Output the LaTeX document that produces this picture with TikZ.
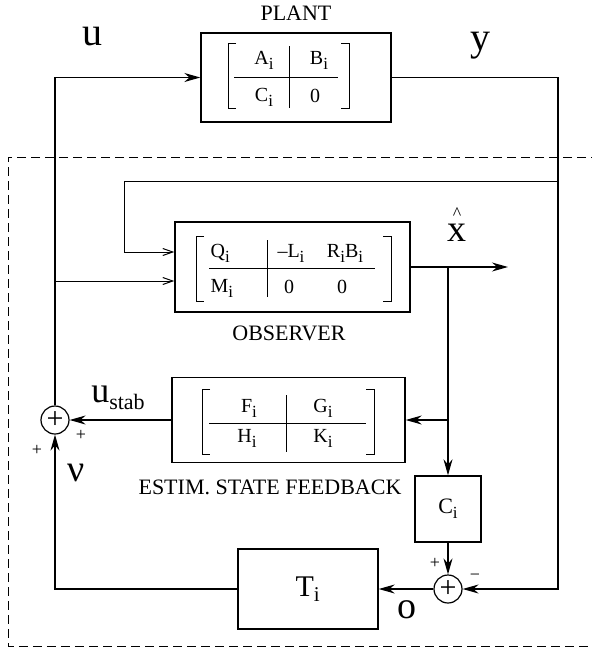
\documentclass[tikz,border=0pt]{standalone}
\usepackage{fontspec}
\setmainfont{Liberation Serif}
\usetikzlibrary{arrows.meta,calc}

\newcommand{\fs}[1]{\fontsize{#1}{#1}\selectfont}
\newcommand{\ix}{\raisebox{-5pt}{\fs{17}i}}

\begin{document}
\begin{tikzpicture}[x=1pt, y=-1pt, line width=1.2pt,
    blk/.style={draw, line width=1.4pt, inner sep=0pt},
    sumnode/.style={draw, circle, minimum size=28pt, inner sep=0pt, font=\fs{30}},
    ent/.style={inner sep=0pt, font=\fs{20}},
    lbl/.style={inner sep=0pt, font=\fs{22}},
    sgn/.style={inner sep=0pt, font=\fs{18}},
    big/.style={inner sep=0pt, font=\fs{38}},
    arr/.style={-{Stealth[length=16pt,width=9pt]}},
    barb/.style={-{Straight Barb[length=10pt,width=7pt]}, line width=1pt},
    mat/.style={line width=1pt}]
  \useasboundingbox (0,0) rectangle (592,649);

  % controller frame
  \draw[dashed, dash pattern=on 9pt off 5pt, line width=1pt] (600,157) -- (8,157) -- (8,646) -- (600,646);

  % plant
  \node[blk, minimum width=190pt, minimum height=89pt] (plant) at (296,77.5) {};
  \node[lbl] (plantlbl) at (296,13) {PLANT};
  \draw[mat] (236,43) -- (228,43) -- (228,108) -- (236,108);
  \draw[mat] (341,43) -- (349,43) -- (349,108) -- (341,108);
  \draw[mat] (289,46) -- (289,108) (234,77) -- (338,77);
  \node[ent] (pa) at (264,60) {A\ix};
  \node[ent] (pb) at (319,60) {B\ix};
  \node[ent] (pc) at (264,97) {C\ix};
  \node[ent] (pd) at (315,96) {0};

  % observer
  \node[blk, minimum width=235pt, minimum height=90pt] (obs) at (292.5,267) {};
  \node[lbl] (obslbl) at (289,333) {OBSERVER};
  \draw[mat] (204,236) -- (196,236) -- (196,301) -- (204,301);
  \draw[mat] (383,236) -- (391,236) -- (391,301) -- (383,301);
  \draw[mat] (267,240) -- (267,297) (209,268) -- (375,268);
  \node[ent, anchor=west] (oq) at (210,253) {Q\ix};
  \node[ent] (ol) at (291,253) {--L\ix};
  \node[ent] (or) at (345,253) {R\ix B\ix};
  \node[ent, anchor=west] (om) at (210,288) {M\ix};
  \node[ent] (oz1) at (289,287) {0};
  \node[ent] (oz2) at (342,287) {0};

  % estimated state feedback
  \node[blk, minimum width=233pt, minimum height=85pt] (fb) at (288.5,420) {};
  \node[lbl] (fblbl) at (270,487) {ESTIM. STATE FEEDBACK};
  \draw[mat] (210,389) -- (202,389) -- (202,454) -- (210,454);
  \draw[mat] (366,389) -- (374,389) -- (374,454) -- (366,454);
  \draw[mat] (286,395) -- (286,452) (209,423) -- (366,423);
  \node[ent] (ff) at (249,408) {F\ix};
  \node[ent] (fg) at (323,408) {G\ix};
  \node[ent] (fh) at (247,438) {H\ix};
  \node[ent] (fk) at (323,438) {K\ix};

  % output map, residual and filter
  \node[blk, minimum size=66pt, font=\fs{22}] (cbox) at (448,509) {C\ix};
  \node[blk, minimum width=140pt, minimum height=80pt, font=\fs{30}] (tbox) at (308,589) {T\textsubscript{i}};
  \node[sumnode] (sumu) at (55,420) {+};
  \node[sumnode] (sumo) at (448,589) {+};

  % signal names
  \node[inner sep=0pt, font=\fs{40}] (ulbl) at (92,37) {u};
  \node[inner sep=0pt, font=\fs{40}] (ylbl) at (480,46) {y};
  \node[big, align=center, anchor=south] (xlbl) at (457,242) {{\fs{18}\textasciicircum}\\[-16pt]x};
  \node[inner sep=0pt, font=\fs{36}] (ustab) at (118,398) {u\raisebox{-7pt}{\fs{22}stab}};
  \node[big] (nulbl) at (76,473) {ν};
  \node[big] (olbl) at (407,610) {o};
  \node[sgn] (p1) at (81,435) {+};
  \node[sgn] (p2) at (37,450) {+};
  \node[sgn] (p3) at (435,563) {+};
  \node[sgn] (m1) at (475,577) {−};

  \coordinate (yout) at (558,589);
  \coordinate (ytap) at (558,181);
  \coordinate (fbk) at (124,181);
  \coordinate (uin) at (55,281);
  \coordinate (xhat) at (508,267);
  \coordinate (tap) at (448,267);

  \draw[arr] (sumu.north) |- (plant.west);
  \draw[arr] (plant.east) -| (yout) -- (sumo.east);
  \draw[barb] (ytap) -- (fbk) |- ($(obs.west)+(0,-15)$);
  \draw[barb] (uin) -- (uin -| obs.west);
  \draw[arr] (obs.east) -- (xhat);
  \draw[arr] (tap) -- (cbox.north);
  \draw[arr] (tap |- fb.east) -- (fb.east);
  \draw[arr] (fb.west) -- (sumu.east);
  \draw[arr] (cbox.south) -- (sumo.north);
  \draw[arr] (sumo.west) -- (tbox.east);
  \draw[arr] (tbox.west) -| (sumu.south);
\end{tikzpicture}
\end{document}
